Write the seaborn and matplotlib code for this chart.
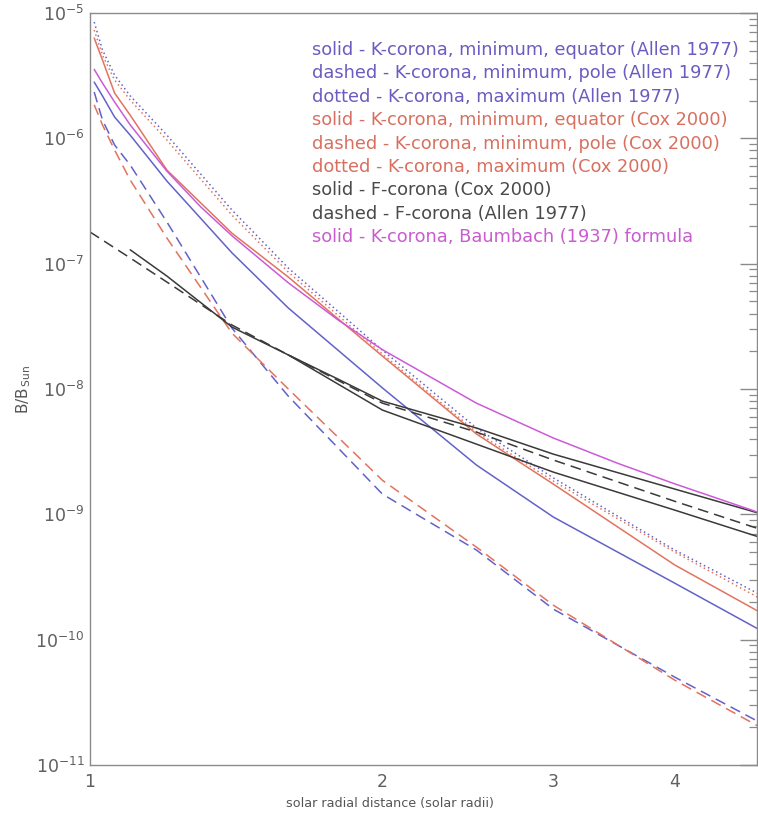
import numpy as np
import pandas as pd
import seaborn as sns
import matplotlib.pyplot as plt
from matplotlib.ticker import FixedLocator, NullLocator, FixedFormatter, LogFormatterSciNotation

# radial distances (solar radii) for the tabulated K-corona curves
r_k = [1.01, 1.03, 1.06, 1.1, 1.2, 1.4, 1.6, 2.0, 2.5, 3.0, 4.0, 5.0]

# Allen 1977 K-corona
k_min_eq_allen = [2.81e-6, 2.18e-6, 1.48e-6, 1.06e-6, 4.56e-7, 1.22e-7, 4.43e-8, 1.02e-8, 2.47e-9, 9.5e-10, 2.82e-10, 1.09e-10]
k_min_pole_allen = [2.34e-6, 1.40e-6, 8.85e-7, 6.12e-7, 2.15e-7, 3.06e-8, 8.77e-9, 1.45e-9, 5.18e-10, 1.75e-10, 5.02e-11, 2.0e-11]
k_max_allen = [8.47e-6, 5.07e-6, 3.20e-6, 2.18e-6, 1.06e-6, 2.68e-7, 9.23e-8, 2.04e-8, 4.88e-9, 1.95e-9, 5.18e-10, 2.10e-10]

# Cox 2000 K-corona
k_min_eq_cox = [6.31e-6, 4.22e-6, 2.30e-6, 1.53e-6, 5.58e-7, 1.75e-7, 7.82e-8, 1.83e-8, 4.37e-9, 1.74e-9, 3.94e-10, 1.51e-10]
k_min_pole_cox = [1.85e-6, 1.28e-6, 8.07e-7, 4.65e-7, 1.60e-7, 2.79e-8, 1.0e-8, 1.87e-9, 5.47e-10, 1.88e-10, 4.75e-11, 1.83e-11]
k_max_cox = [7.31e-6, 4.62e-6, 2.92e-6, 2.02e-6, 9.68e-7, 2.44e-7, 8.57e-8, 1.90e-8, 4.53e-9, 1.84e-9, 4.99e-10, 1.95e-10]

# F-corona
r_f_cox = [1.1, 1.2, 1.4, 1.6, 2.0, 2.5, 3.0, 4.0, 5.0]
f_cox = [1.29e-7, 7.96e-8, 3.12e-8, 1.87e-8, 6.79e-9, 3.63e-9, 2.17e-9, 1.08e-9, 6.22e-10]
r_f_cox2 = [1.6, 1.8, 2.0, 2.5, 3.0, 4.0, 5.0]
f_cox2 = [1.87e-8, 1.20e-8, 8.0e-9, 4.88e-9, 3.02e-9, 1.59e-9, 9.68e-10]
r_f_allen = [1.0, 1.1, 1.2, 1.4, 1.6, 2.0, 2.5, 3.0, 4.0, 5.0]
f_allen = [1.79e-7, 1.11e-7, 7.13e-8, 3.24e-8, 1.87e-8, 7.71e-9, 4.53e-9, 2.71e-9, 1.27e-9, 7.21e-10]

# Baumbach (1937)
r_baum = [1.01, 1.03, 1.06, 1.1, 1.2, 1.3, 1.4, 1.6, 1.8, 2.0, 2.5, 3.0, 3.5, 4.0, 5.0]
k_baum = [3.55e-6, 2.76e-6, 1.95e-6, 1.28e-6, 5.47e-7, 2.84e-7, 1.67e-7, 7.04e-8, 3.56e-8, 2.06e-8, 7.7e-9, 4.06e-9, 2.54e-9, 1.75e-9, 9.7e-10]

y_decades = [1e-11, 1e-10, 1e-9, 1e-8, 1e-7, 1e-6, 1e-5]

legend_lines = [
    "solid - K-corona, minimum, equator (Allen 1977)",
    "dashed - K-corona, minimum, pole (Allen 1977)",
    "dotted - K-corona, maximum (Allen 1977)",
    "solid - K-corona, minimum, equator (Cox 2000)",
    "dashed - K-corona, minimum, pole (Cox 2000)",
    "dotted - K-corona, maximum (Cox 2000)",
    "solid - F-corona (Cox 2000)",
    "dashed - F-corona (Allen 1977)",
    "solid - K-corona, Baumbach (1937) formula",
]

blue = "#6262c8"
red = "#e2735e"
black = "#3a3a3a"
mag = "#cc5ad8"
legend_colors = ["#6a5cc0"] * 3 + ["#d8705f"] * 3 + ["#4a4a4a"] * 2 + ["#c85cd0"]

sns.set_style("white")
plt.rcParams['font.family'] = ['DejaVu Sans']

fig = plt.figure(figsize=(7.58, 8.15), dpi=100)
ax = fig.add_axes([90 / 758, 50 / 815, 667 / 758, 752 / 815])

dash = (0, (7, 4))
dot = (0, (1, 2))
series = [
    (r_k, k_min_eq_allen, blue, "-"),
    (r_k, k_min_pole_allen, blue, dash),
    (r_k, k_max_allen, blue, dot),
    (r_k, k_min_eq_cox, red, "-"),
    (r_k, k_min_pole_cox, red, dash),
    (r_k, k_max_cox, red, dot),
    (r_f_cox, f_cox, black, "-"),
    (r_f_cox2, f_cox2, black, "-"),
    (r_f_allen, f_allen, black, dash),
    (r_baum, k_baum, mag, "-"),
]
for xs, ys, c, ls in series:
    sns.lineplot(x=xs, y=ys, ax=ax, color=c, linestyle=ls, linewidth=1.1,
                 estimator=None, sort=False)

ax.set_xscale("log")
ax.set_yscale("log")
ax.set_xlim(1, 4.86)
ax.set_ylim(1e-11, 1e-5)

ax.xaxis.set_major_locator(FixedLocator([1, 2, 3, 4]))
ax.xaxis.set_major_formatter(FixedFormatter(["1", "2", "3", "4"]))
ax.xaxis.set_minor_locator(NullLocator())
ax.yaxis.set_major_locator(FixedLocator(y_decades))
ax.yaxis.set_major_formatter(LogFormatterSciNotation())
minor = [m * d for d in y_decades[:-1] for m in range(2, 10)]
ax.yaxis.set_minor_locator(FixedLocator(minor))

grey = "#8a8a8a"
for s in ax.spines.values():
    s.set_color(grey)
    s.set_linewidth(1.0)
ax.tick_params(which="both", direction="in", top=False, right=True, color=grey,
               labelcolor="#606060", labelsize=12.5)
ax.tick_params(which="major", length=12, width=1.0)
ax.tick_params(which="minor", length=6, width=0.9, labelleft=False)
ax.tick_params(axis="x", pad=6)
ax.tick_params(axis="y", pad=4)

ax.set_xlabel("solar radial distance (solar radii)", fontsize=9.2, color="#555555")
ax.xaxis.set_label_coords(0.45, -0.043)
ax.set_ylabel(r"B/B$_{\,\mathrm{Sun}}$", fontsize=11, color="#555555")
ax.yaxis.set_label_coords(-0.085, 0.5)

for i, (txt, c) in enumerate(zip(legend_lines, legend_colors)):
    fig.text(312 / 758, 1 - (50 + 23.4 * i) / 815, txt, color=c, fontsize=12.8,
             va="center", ha="left")

fig.savefig("out.png", dpi=100)
